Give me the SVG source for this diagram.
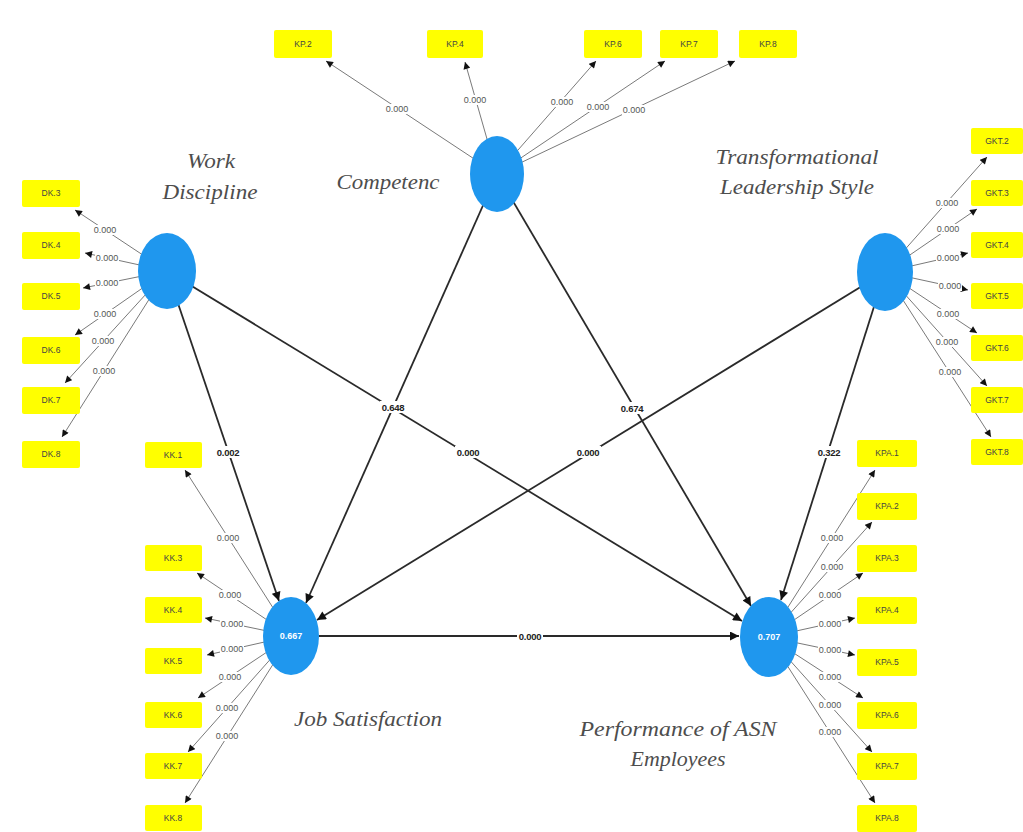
<svg xmlns="http://www.w3.org/2000/svg" width="1023" height="832" viewBox="0 0 1023 832">
<style>
.bg{fill:#ffffff}
.lv{fill:#1f97ee}
.ind{fill:#ffff00}
.it{font-family:"Liberation Sans",Arial,sans-serif;font-size:8.5px;fill:#444;text-anchor:middle}
.vt{font-family:"Liberation Sans",Arial,sans-serif;font-size:9px;font-weight:bold;fill:#ffffff;text-anchor:middle}
.nm{font-family:"Liberation Serif","Times New Roman",serif;font-style:italic;font-size:21px;fill:#4d4d4d;text-anchor:middle}
.ol{stroke:#7a7a7a;stroke-width:1;fill:none;marker-end:url(#ah)}
.sl{stroke:#2a2a2a;stroke-width:1.8;fill:none;marker-end:url(#ahb)}
.lb{fill:#ffffff}
.lt{font-family:"Liberation Sans",Arial,sans-serif;font-size:9px;fill:#555;text-anchor:middle}
.st{font-family:"Liberation Sans",Arial,sans-serif;font-size:9.5px;font-weight:bold;fill:#222;text-anchor:middle;letter-spacing:-0.3px}
</style>
<defs>
<marker id="ah" viewBox="0 0 10 10" refX="10" refY="5" markerWidth="8" markerHeight="7" orient="auto" markerUnits="userSpaceOnUse"><path d="M0,0 L10,5 L0,10 z" fill="#111"/></marker>
<marker id="ahb" viewBox="0 0 10 10" refX="10" refY="5" markerWidth="11" markerHeight="9" orient="auto" markerUnits="userSpaceOnUse"><path d="M0,0 L10,5 L0,10 z" fill="#111"/></marker>
</defs>
<rect class="bg" x="0" y="0" width="1023" height="832"/>

<g id="connectors">
  <line class="ol" x1="497" y1="174" x2="326" y2="61"/>
  <line class="ol" x1="497" y1="174" x2="465" y2="62"/>
  <line class="ol" x1="497" y1="174" x2="596" y2="61"/>
  <line class="ol" x1="497" y1="174" x2="665" y2="61"/>
  <line class="ol" x1="497" y1="174" x2="735" y2="61"/>
  <line class="ol" x1="167" y1="271" x2="75" y2="210"/>
  <line class="ol" x1="167" y1="271" x2="85" y2="253"/>
  <line class="ol" x1="167" y1="271" x2="83" y2="288"/>
  <line class="ol" x1="167" y1="271" x2="75" y2="335"/>
  <line class="ol" x1="167" y1="271" x2="65" y2="383"/>
  <line class="ol" x1="167" y1="271" x2="62" y2="437"/>
  <line class="ol" x1="885" y1="272" x2="987" y2="157"/>
  <line class="ol" x1="885" y1="272" x2="977" y2="209"/>
  <line class="ol" x1="885" y1="272" x2="968" y2="253"/>
  <line class="ol" x1="885" y1="272" x2="968" y2="290"/>
  <line class="ol" x1="885" y1="272" x2="977" y2="333"/>
  <line class="ol" x1="885" y1="272" x2="987" y2="386"/>
  <line class="ol" x1="885" y1="272" x2="991" y2="437"/>
  <line class="ol" x1="291" y1="636" x2="185" y2="470"/>
  <line class="ol" x1="291" y1="636" x2="197" y2="573"/>
  <line class="ol" x1="291" y1="636" x2="205" y2="618"/>
  <line class="ol" x1="291" y1="636" x2="207" y2="655"/>
  <line class="ol" x1="291" y1="636" x2="198" y2="698"/>
  <line class="ol" x1="291" y1="636" x2="188" y2="752"/>
  <line class="ol" x1="291" y1="636" x2="185" y2="803"/>
  <line class="ol" x1="769" y1="637" x2="875" y2="470"/>
  <line class="ol" x1="769" y1="637" x2="872" y2="522"/>
  <line class="ol" x1="769" y1="637" x2="863" y2="573"/>
  <line class="ol" x1="769" y1="637" x2="855" y2="618"/>
  <line class="ol" x1="769" y1="637" x2="855" y2="655"/>
  <line class="ol" x1="769" y1="637" x2="863" y2="698"/>
  <line class="ol" x1="769" y1="637" x2="872" y2="752"/>
  <line class="ol" x1="769" y1="637" x2="875" y2="803"/>

  <line class="sl" x1="167" y1="271" x2="279" y2="601"/>
  <line class="sl" x1="497" y1="174" x2="306" y2="603"/>
  <line class="sl" x1="885" y1="272" x2="317" y2="620"/>
  <line class="sl" x1="167" y1="271" x2="742" y2="621"/>
  <line class="sl" x1="497" y1="174" x2="751" y2="606"/>
  <line class="sl" x1="885" y1="272" x2="781" y2="600"/>
  <line class="sl" x1="319" y1="636" x2="739" y2="636"/>

  <g>
    <rect class="lb" x="385" y="104" width="24" height="10"/><text class="lt" x="397" y="112">0.000</text>
    <rect class="lb" x="463" y="95" width="24" height="10"/><text class="lt" x="475" y="103">0.000</text>
    <rect class="lb" x="550" y="97" width="24" height="10"/><text class="lt" x="562" y="105">0.000</text>
    <rect class="lb" x="586" y="102" width="24" height="10"/><text class="lt" x="598" y="110">0.000</text>
    <rect class="lb" x="622" y="105" width="24" height="10"/><text class="lt" x="634" y="113">0.000</text>

    <rect class="lb" x="93" y="225" width="24" height="10"/><text class="lt" x="105" y="233">0.000</text>
    <rect class="lb" x="95" y="253" width="24" height="10"/><text class="lt" x="107" y="261">0.000</text>
    <rect class="lb" x="95" y="278" width="24" height="10"/><text class="lt" x="107" y="286">0.000</text>
    <rect class="lb" x="93" y="309" width="24" height="10"/><text class="lt" x="105" y="317">0.000</text>
    <rect class="lb" x="91" y="336" width="24" height="10"/><text class="lt" x="103" y="344">0.000</text>
    <rect class="lb" x="92" y="366" width="24" height="10"/><text class="lt" x="104" y="374">0.000</text>

    <rect class="lb" x="935" y="198" width="24" height="10"/><text class="lt" x="947" y="206">0.000</text>
    <rect class="lb" x="936" y="224" width="24" height="10"/><text class="lt" x="948" y="232">0.000</text>
    <rect class="lb" x="936" y="253" width="24" height="10"/><text class="lt" x="948" y="261">0.000</text>
    <rect class="lb" x="938" y="281" width="24" height="10"/><text class="lt" x="950" y="289">0.000</text>
    <rect class="lb" x="936" y="309" width="24" height="10"/><text class="lt" x="948" y="317">0.000</text>
    <rect class="lb" x="935" y="337" width="24" height="10"/><text class="lt" x="947" y="345">0.000</text>
    <rect class="lb" x="938" y="367" width="24" height="10"/><text class="lt" x="950" y="375">0.000</text>

    <rect class="lb" x="216" y="533" width="24" height="10"/><text class="lt" x="228" y="541">0.000</text>
    <rect class="lb" x="218" y="590" width="24" height="10"/><text class="lt" x="230" y="598">0.000</text>
    <rect class="lb" x="220" y="619" width="24" height="10"/><text class="lt" x="232" y="627">0.000</text>
    <rect class="lb" x="220" y="644" width="24" height="10"/><text class="lt" x="232" y="652">0.000</text>
    <rect class="lb" x="218" y="672" width="24" height="10"/><text class="lt" x="230" y="680">0.000</text>
    <rect class="lb" x="215" y="703" width="24" height="10"/><text class="lt" x="227" y="711">0.000</text>
    <rect class="lb" x="215" y="731" width="24" height="10"/><text class="lt" x="227" y="739">0.000</text>

    <rect class="lb" x="820" y="533" width="24" height="10"/><text class="lt" x="832" y="541">0.000</text>
    <rect class="lb" x="820" y="562" width="24" height="10"/><text class="lt" x="832" y="570">0.000</text>
    <rect class="lb" x="818" y="590" width="24" height="10"/><text class="lt" x="830" y="598">0.000</text>
    <rect class="lb" x="818" y="619" width="24" height="10"/><text class="lt" x="830" y="627">0.000</text>
    <rect class="lb" x="818" y="645" width="24" height="10"/><text class="lt" x="830" y="653">0.000</text>
    <rect class="lb" x="818" y="672" width="24" height="10"/><text class="lt" x="830" y="680">0.000</text>
    <rect class="lb" x="818" y="700" width="24" height="10"/><text class="lt" x="830" y="708">0.000</text>
    <rect class="lb" x="818" y="727" width="24" height="10"/><text class="lt" x="830" y="735">0.000</text>
  </g>
  <g>
    <rect class="lb" x="215" y="446" width="26" height="12"/><text class="st" x="228" y="456">0.002</text>
    <rect class="lb" x="380" y="401" width="26" height="12"/><text class="st" x="393" y="411">0.648</text>
    <rect class="lb" x="455" y="446" width="26" height="12"/><text class="st" x="468" y="456">0.000</text>
    <rect class="lb" x="575" y="446" width="26" height="12"/><text class="st" x="588" y="456">0.000</text>
    <rect class="lb" x="619" y="402" width="26" height="12"/><text class="st" x="632" y="412">0.674</text>
    <rect class="lb" x="816" y="446" width="26" height="12"/><text class="st" x="829" y="456">0.322</text>
    <rect class="lb" x="517" y="630" width="26" height="12"/><text class="st" x="530" y="640">0.000</text>
  </g>
</g>

<g id="competence">
  <ellipse class="lv" cx="497" cy="174" rx="27" ry="38"/>
  <text class="nm" x="388" y="189" textLength="103" lengthAdjust="spacingAndGlyphs">Competenc</text>
</g>
<g id="work-discipline">
  <ellipse class="lv" cx="167" cy="271" rx="29" ry="38"/>
  <text class="nm" x="211" y="168" textLength="48" lengthAdjust="spacingAndGlyphs">Work</text>
  <text class="nm" x="210" y="199" textLength="95" lengthAdjust="spacingAndGlyphs">Discipline</text>
</g>
<g id="transformational-leadership-style">
  <ellipse class="lv" cx="885" cy="272" rx="28" ry="39"/>
  <text class="nm" x="797" y="164" textLength="163" lengthAdjust="spacingAndGlyphs">Transformational</text>
  <text class="nm" x="797" y="194" textLength="154" lengthAdjust="spacingAndGlyphs">Leadership Style</text>
</g>
<g id="job-satisfaction">
  <ellipse class="lv" cx="291" cy="636" rx="28" ry="39"/>
  <text class="vt" x="291" y="639">0.667</text>
  <text class="nm" x="368" y="726" textLength="148" lengthAdjust="spacingAndGlyphs">Job Satisfaction</text>
</g>
<g id="performance-of-asn-employees">
  <ellipse class="lv" cx="769" cy="637" rx="29" ry="40"/>
  <text class="vt" x="769" y="640">0.707</text>
  <text class="nm" x="678" y="736" textLength="197" lengthAdjust="spacingAndGlyphs">Performance of ASN</text>
  <text class="nm" x="678" y="766" textLength="95" lengthAdjust="spacingAndGlyphs">Employees</text>
</g>

<g id="kp2"><rect class="ind" x="274" y="30" width="58" height="28" rx="2"/><text class="it" x="303" y="47">KP.2</text></g>
<g id="kp4"><rect class="ind" x="427" y="30" width="56" height="28" rx="2"/><text class="it" x="455" y="47">KP.4</text></g>
<g id="kp6"><rect class="ind" x="584" y="30" width="58" height="28" rx="2"/><text class="it" x="613" y="47">KP.6</text></g>
<g id="kp7"><rect class="ind" x="660" y="30" width="58" height="28" rx="2"/><text class="it" x="689" y="47">KP.7</text></g>
<g id="kp8"><rect class="ind" x="739" y="30" width="58" height="28" rx="2"/><text class="it" x="768" y="47">KP.8</text></g>

<g id="dk3"><rect class="ind" x="22" y="180" width="58" height="27" rx="2"/><text class="it" x="51" y="196">DK.3</text></g>
<g id="dk4"><rect class="ind" x="22" y="232" width="58" height="27" rx="2"/><text class="it" x="51" y="248">DK.4</text></g>
<g id="dk5"><rect class="ind" x="22" y="283" width="58" height="27" rx="2"/><text class="it" x="51" y="299">DK.5</text></g>
<g id="dk6"><rect class="ind" x="22" y="337" width="58" height="27" rx="2"/><text class="it" x="51" y="353">DK.6</text></g>
<g id="dk7"><rect class="ind" x="22" y="387" width="58" height="27" rx="2"/><text class="it" x="51" y="403">DK.7</text></g>
<g id="dk8"><rect class="ind" x="22" y="441" width="58" height="27" rx="2"/><text class="it" x="51" y="457">DK.8</text></g>

<g id="gkt2"><rect class="ind" x="971" y="128" width="52" height="26" rx="2"/><text class="it" x="997" y="144">GKT.2</text></g>
<g id="gkt3"><rect class="ind" x="971" y="180" width="52" height="26" rx="2"/><text class="it" x="997" y="196">GKT.3</text></g>
<g id="gkt4"><rect class="ind" x="971" y="232" width="52" height="26" rx="2"/><text class="it" x="997" y="248">GKT.4</text></g>
<g id="gkt5"><rect class="ind" x="971" y="283" width="52" height="26" rx="2"/><text class="it" x="997" y="299">GKT.5</text></g>
<g id="gkt6"><rect class="ind" x="971" y="335" width="52" height="26" rx="2"/><text class="it" x="997" y="351">GKT.6</text></g>
<g id="gkt7"><rect class="ind" x="971" y="387" width="52" height="26" rx="2"/><text class="it" x="997" y="403">GKT.7</text></g>
<g id="gkt8"><rect class="ind" x="971" y="439" width="52" height="26" rx="2"/><text class="it" x="997" y="455">GKT.8</text></g>

<g id="kk1"><rect class="ind" x="145" y="442" width="57" height="26" rx="2"/><text class="it" x="173" y="458">KK.1</text></g>
<g id="kk3"><rect class="ind" x="145" y="545" width="57" height="26" rx="2"/><text class="it" x="173" y="561">KK.3</text></g>
<g id="kk4"><rect class="ind" x="145" y="597" width="57" height="26" rx="2"/><text class="it" x="173" y="613">KK.4</text></g>
<g id="kk5"><rect class="ind" x="145" y="648" width="57" height="26" rx="2"/><text class="it" x="173" y="664">KK.5</text></g>
<g id="kk6"><rect class="ind" x="145" y="702" width="57" height="26" rx="2"/><text class="it" x="173" y="718">KK.6</text></g>
<g id="kk7"><rect class="ind" x="145" y="753" width="57" height="26" rx="2"/><text class="it" x="173" y="769">KK.7</text></g>
<g id="kk8"><rect class="ind" x="145" y="805" width="57" height="26" rx="2"/><text class="it" x="173" y="821">KK.8</text></g>

<g id="kpa1"><rect class="ind" x="857" y="440" width="60" height="27" rx="2"/><text class="it" x="887" y="456">KPA.1</text></g>
<g id="kpa2"><rect class="ind" x="857" y="493" width="60" height="27" rx="2"/><text class="it" x="887" y="509">KPA.2</text></g>
<g id="kpa3"><rect class="ind" x="857" y="545" width="60" height="27" rx="2"/><text class="it" x="887" y="561">KPA.3</text></g>
<g id="kpa4"><rect class="ind" x="857" y="597" width="60" height="27" rx="2"/><text class="it" x="887" y="613">KPA.4</text></g>
<g id="kpa5"><rect class="ind" x="857" y="649" width="60" height="27" rx="2"/><text class="it" x="887" y="665">KPA.5</text></g>
<g id="kpa6"><rect class="ind" x="857" y="702" width="60" height="27" rx="2"/><text class="it" x="887" y="718">KPA.6</text></g>
<g id="kpa7"><rect class="ind" x="857" y="753" width="60" height="27" rx="2"/><text class="it" x="887" y="769">KPA.7</text></g>
<g id="kpa8"><rect class="ind" x="857" y="805" width="60" height="27" rx="2"/><text class="it" x="887" y="821">KPA.8</text></g>
</svg>
